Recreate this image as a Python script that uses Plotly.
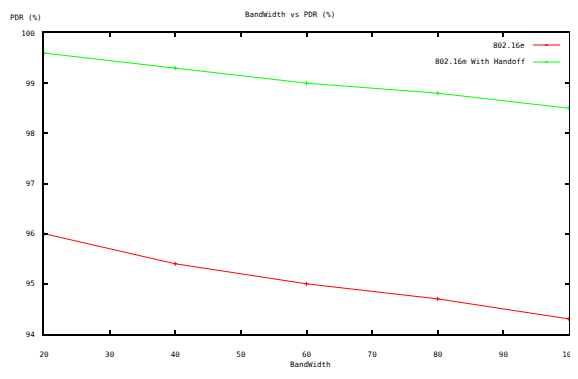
import plotly.graph_objects as go

bandwidth = [20, 40, 60, 80, 100]
pdr_80216e = [96.0, 95.4, 95.0, 94.7, 94.3]
pdr_80216m = [99.6, 99.3, 99.0, 98.8, 98.5]
series_names = ["802.16e", "802.16m With Handoff"]
series_colors = ["#ff0000", "#00ff00"]
x_ticks = [20, 30, 40, 50, 60, 70, 80, 90, 100]
y_ticks = [94, 95, 96, 97, 98, 99, 100]

FONT = "DejaVu Sans Mono"
FS = 7.5

# page has an 8px body margin; work in window coords and convert
OFF = 8
W, H = 578 - 2 * OFF, 379 - 2 * OFF
L, R, T, B = 44 - OFF, 569 - OFF, 33 - OFF, 334 - OFF


def px(xw):
    return (xw - OFF - L) / (R - L)


def py(yw):
    return (B - (yw - OFF)) / (B - T)


fig = go.Figure()
for name, ys, col in zip(series_names, [pdr_80216e, pdr_80216m], series_colors):
    fig.add_trace(go.Scatter(
        x=bandwidth, y=ys, mode="lines+markers", name=name,
        line=dict(color=col, width=1),
        marker=dict(symbol="cross-thin", size=3, color=col, line=dict(color=col, width=1)),
        showlegend=False, cliponaxis=False,
    ))

axis_common = dict(
    showgrid=False, zeroline=False, showline=True, linecolor="black", linewidth=1.5,
    mirror="ticks", ticks="inside", ticklen=4, tickcolor="black", tickwidth=1.5,
    tickfont=dict(family=FONT, size=FS, color="black"), automargin=False,
    ticklabeloverflow="allow",
)
fig.update_xaxes(range=[20, 100], tickvals=x_ticks, ticklabelstandoff=12, **axis_common)
fig.update_yaxes(range=[94, 100], tickvals=y_ticks, ticklabelstandoff=6, **axis_common)

# gnuplot-style legend (text right-aligned, sample to the right)
legend_rows_y = [45, 62]
for (name, col, yw) in zip(series_names, series_colors, legend_rows_y):
    yy = py(yw)
    fig.add_annotation(xref="paper", yref="paper", x=px(527), y=yy,
                       text=name, showarrow=False, xanchor="right", yanchor="middle",
                       font=dict(family=FONT, size=FS, color="black"))
    fig.add_shape(type="line", xref="paper", yref="paper",
                  x0=px(533), x1=px(560), y0=yy, y1=yy,
                  line=dict(color=col, width=1))
    fig.add_shape(type="line", xref="paper", yref="paper",
                  x0=px(545.5), x1=px(547.5), y0=yy, y1=yy,
                  line=dict(color=col, width=2))

fig.add_annotation(xref="paper", yref="paper", x=px(290), y=py(8),
                   text="BandWidth vs PDR (%)", showarrow=False, xanchor="center", yanchor="top",
                   font=dict(family=FONT, size=FS, color="black"))
fig.add_annotation(xref="paper", yref="paper", x=px(8), y=py(17),
                   text="PDR (%)", showarrow=False, xanchor="left", yanchor="middle",
                   font=dict(family=FONT, size=FS, color="black"))
fig.add_annotation(xref="paper", yref="paper", x=px(310), y=py(371),
                   text="BandWidth", showarrow=False, xanchor="center", yanchor="bottom",
                   font=dict(family=FONT, size=FS, color="black"))

fig.update_layout(
    width=W + OFF, height=H,
    margin=dict(l=L, r=W + OFF - R, t=T, b=H - B, autoexpand=False),
    paper_bgcolor="white", plot_bgcolor="white",
    showlegend=False,
)
fig.write_html("out.html")
